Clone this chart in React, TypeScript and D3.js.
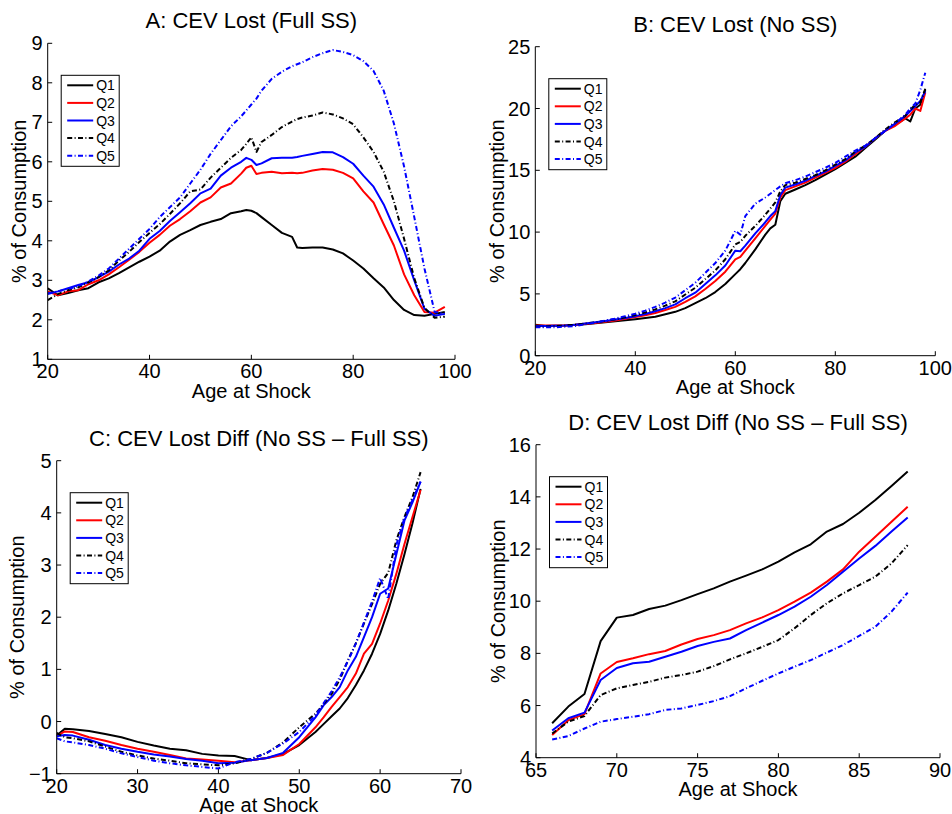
import React from 'react';
import * as d3 from 'd3';

// ---------- DATA ----------
const seriesNames = ['Q1', 'Q2', 'Q3', 'Q4', 'Q5'];

// Panel A: CEV Lost (Full SS)
const agesA = [20,22,24,26,28,30,32,34,36,38,40,42,44,46,48,50,52,54,56,58,59,60,61,62,64,66,68,69,70,72,74,76,78,80,82,84,86,88,90,92,94,96,98];
const fullQ1 = [2.8,2.62,2.68,2.75,2.8,2.95,3.05,3.18,3.33,3.47,3.6,3.75,3.98,4.15,4.27,4.4,4.48,4.55,4.7,4.75,4.78,4.76,4.7,4.6,4.4,4.2,4.1,3.83,3.82,3.83,3.83,3.78,3.68,3.5,3.3,3.05,2.82,2.5,2.25,2.12,2.1,2.15,2.2];
const fullQ2 = [2.72,2.62,2.72,2.75,2.9,3.0,3.15,3.33,3.52,3.72,3.95,4.15,4.38,4.55,4.75,4.97,5.1,5.35,5.45,5.7,5.85,5.9,5.69,5.72,5.75,5.71,5.72,5.71,5.72,5.78,5.82,5.8,5.72,5.58,5.25,4.97,4.42,3.88,3.15,2.62,2.2,2.18,2.33];
const fullQ3 = [2.65,2.72,2.8,2.88,2.95,3.08,3.22,3.4,3.55,3.75,4.05,4.25,4.5,4.72,4.95,5.2,5.32,5.65,5.85,6.0,6.1,6.05,5.92,5.96,6.09,6.1,6.1,6.12,6.15,6.2,6.25,6.24,6.12,5.95,5.65,5.37,4.92,4.33,3.75,3.0,2.28,2.1,2.15];
const fullQ4 = [2.5,2.65,2.75,2.82,2.95,3.08,3.25,3.5,3.72,3.97,4.2,4.42,4.68,4.95,5.25,5.3,5.6,5.85,6.1,6.3,6.45,6.62,6.25,6.5,6.68,6.88,7.02,7.08,7.12,7.17,7.25,7.2,7.1,6.95,6.62,6.25,5.75,5.0,4.05,3.05,2.3,2.05,2.08];
const fullQ5 = [2.67,2.72,2.78,2.85,2.97,3.12,3.3,3.55,3.8,4.05,4.3,4.6,4.85,5.1,5.45,5.8,6.2,6.55,6.9,7.15,7.3,7.45,7.6,7.8,8.1,8.28,8.42,8.47,8.52,8.65,8.75,8.83,8.78,8.7,8.55,8.3,7.8,6.97,5.88,4.6,3.3,2.2,2.15];

// Panel B: CEV Lost (No SS)
const agesB = [20,22,24,26,28,30,32,34,36,38,40,42,44,46,48,50,52,54,56,58,60,61,62,64,66,67,68,69,70,72,74,76,78,80,82,84,86,88,90,92,94,95,96,97,98];
const noQ1 = [2.5,2.4,2.42,2.45,2.5,2.55,2.62,2.7,2.78,2.86,2.95,3.05,3.15,3.35,3.55,3.85,4.25,4.65,5.15,5.8,6.6,7.0,7.5,8.6,9.8,10.3,10.6,12.5,13.1,13.45,13.8,14.2,14.65,15.1,15.6,16.1,16.8,17.5,18.2,18.7,19.2,18.95,20.0,20.3,21.5];
const noQ2 = [2.45,2.45,2.45,2.45,2.5,2.58,2.65,2.75,2.85,2.98,3.12,3.28,3.45,3.7,3.95,4.35,4.8,5.4,6.05,6.8,7.8,8.0,8.5,9.5,10.5,11.0,11.5,12.8,13.4,13.7,14.0,14.4,14.8,15.2,15.7,16.3,16.9,17.6,18.2,18.6,19.2,19.5,20.0,19.8,21.3];
const noQ3 = [2.4,2.4,2.42,2.45,2.5,2.6,2.7,2.8,2.92,3.05,3.2,3.38,3.6,3.85,4.15,4.65,5.1,5.8,6.5,7.3,8.5,8.45,8.9,9.9,10.8,11.3,11.7,13.0,13.6,13.85,14.15,14.55,14.9,15.35,15.8,16.45,16.9,17.6,18.2,18.8,19.4,19.8,20.2,20.6,21.4];
const noQ4 = [2.35,2.35,2.4,2.45,2.5,2.6,2.7,2.82,2.95,3.1,3.3,3.5,3.75,4.05,4.4,4.95,5.5,6.2,6.9,7.8,9.0,9.2,9.7,10.5,11.4,11.9,12.4,13.3,13.8,14.0,14.3,14.6,15.0,15.45,15.9,16.5,17.0,17.6,18.3,18.9,19.4,19.9,20.3,20.5,21.6];
const noQ5 = [2.3,2.3,2.3,2.35,2.4,2.55,2.68,2.85,3.0,3.2,3.4,3.65,3.95,4.3,4.7,5.3,5.9,6.7,7.5,8.5,10.1,9.8,11.3,12.3,12.8,13.1,13.4,13.7,13.95,14.2,14.5,14.85,15.2,15.6,16.1,16.6,17.0,17.6,18.2,18.8,19.5,20.0,20.4,21.5,22.9];

// Panel C: CEV Lost Diff, ages 20-65
const agesC = [20,21,22,24,26,28,30,32,34,36,38,40,42,44,46,48,50,52,53,54,55,56,57,58,59,60,61,62,63,64,65];
const diffQ1 = [-0.27,-0.14,-0.15,-0.18,-0.24,-0.3,-0.39,-0.46,-0.52,-0.55,-0.62,-0.65,-0.66,-0.74,-0.7,-0.62,-0.45,-0.2,-0.05,0.1,0.25,0.45,0.7,0.98,1.3,1.68,2.13,2.64,3.2,3.8,4.46];
const diffQ2 = [-0.28,-0.19,-0.2,-0.3,-0.37,-0.45,-0.52,-0.58,-0.64,-0.71,-0.73,-0.75,-0.78,-0.74,-0.7,-0.64,-0.43,-0.11,0.08,0.28,0.47,0.66,0.92,1.3,1.49,1.88,2.32,2.83,3.4,3.92,4.44];
const diffQ3 = [-0.28,-0.26,-0.27,-0.35,-0.45,-0.52,-0.58,-0.63,-0.67,-0.72,-0.75,-0.8,-0.79,-0.74,-0.7,-0.6,-0.3,0.08,0.31,0.47,0.66,0.98,1.24,1.62,2.0,2.45,2.55,3.2,3.85,4.2,4.6];
const diffQ4 = [-0.22,-0.3,-0.32,-0.38,-0.48,-0.58,-0.65,-0.71,-0.75,-0.8,-0.82,-0.84,-0.8,-0.72,-0.6,-0.4,-0.11,0.15,0.33,0.53,0.8,1.17,1.5,1.88,2.25,2.64,2.85,3.47,3.92,4.3,4.78];
const diffQ5 = [-0.32,-0.38,-0.4,-0.45,-0.52,-0.61,-0.68,-0.75,-0.8,-0.84,-0.87,-0.9,-0.78,-0.72,-0.6,-0.42,-0.2,0.12,0.35,0.58,0.85,1.15,1.5,1.9,2.3,2.75,2.35,3.38,3.9,4.25,4.6];

// Panel D: CEV Lost Diff, ages 66-88
const agesD = [66,67,68,69,70,71,72,73,74,75,76,77,78,79,80,81,82,83,84,85,86,87,88];
const oldQ1 = [5.32,5.96,6.44,8.47,9.37,9.47,9.7,9.83,10.04,10.27,10.49,10.75,10.98,11.22,11.52,11.87,12.18,12.67,12.96,13.39,13.88,14.42,14.97];
const oldQ2 = [4.87,5.44,5.67,7.23,7.67,7.81,7.97,8.09,8.34,8.55,8.7,8.89,9.15,9.38,9.66,9.98,10.33,10.75,11.22,11.9,12.47,13.05,13.62];
const oldQ3 = [5.04,5.51,5.73,6.98,7.44,7.62,7.68,7.87,8.06,8.28,8.44,8.57,8.89,9.18,9.47,9.79,10.17,10.62,11.13,11.64,12.12,12.67,13.21];
const oldQ4 = [4.93,5.38,5.6,6.4,6.66,6.79,6.91,7.07,7.17,7.3,7.51,7.77,8.0,8.25,8.51,8.96,9.47,9.92,10.3,10.62,10.94,11.45,12.15];
const oldQ5 = [4.7,4.83,5.12,5.38,5.48,5.57,5.67,5.83,5.89,6.02,6.17,6.36,6.66,6.95,7.23,7.49,7.74,8.03,8.32,8.67,9.02,9.6,10.33];

// Tick values
const xTicksA = [20, 40, 60, 80, 100];
const yTicksA = [1, 2, 3, 4, 5, 6, 7, 8, 9];
const xTicksB = [20, 40, 60, 80, 100];
const yTicksB = [0, 5, 10, 15, 20, 25];
const xTicksC = [20, 30, 40, 50, 60, 70];
const yTicksC = [-1, 0, 1, 2, 3, 4, 5];
const xTicksD = [65, 70, 75, 80, 85, 90];
const yTicksD = [4, 6, 8, 10, 12, 14, 16];

const titles = [
  'A: CEV Lost (Full SS)',
  'B: CEV Lost (No SS)',
  'C: CEV Lost Diff (No SS \u2013 Full SS)',
  'D: CEV Lost Diff (No SS \u2013 Full SS)',
];
const xLabel = 'Age at Shock';
const yLabel = '% of Consumption';

// ---------- STYLE ----------
const FONT = '"Liberation Sans", Arial, Helvetica, sans-serif';
const DASHDOT = '5,2.4,1,2.4';
const styles = [
  { color: '#000000', dash: null },
  { color: '#ff0000', dash: null },
  { color: '#0000ff', dash: null },
  { color: '#000000', dash: DASHDOT },
  { color: '#0000ff', dash: DASHDOT },
];

type PanelProps = {
  id: string;
  left: number; top: number; width: number; height: number;
  xDomain: [number, number]; yDomain: [number, number];
  xTicks: number[]; yTicks: number[];
  ages: number[]; series: number[][];
  title: string; yLabelOffset: number;
};

const fmt = (v: number) => (v < 0 ? '\u2212' + Math.abs(v) : String(v));

function Panel(p: PanelProps) {
  const x = d3.scaleLinear().domain(p.xDomain).range([p.left, p.left + p.width]);
  const y = d3.scaleLinear().domain(p.yDomain).range([p.top + p.height, p.top]);
  const bottom = p.top + p.height;
  const line = d3.line<number>().x((_, i) => x(p.ages[i])).y((d) => y(d));
  const tickLen = 4.5;
  const lgX = p.left + 13.5;
  const lgY = p.top + 32;
  const rowH = 17.6;
  return (
    <g>
      <defs>
        <clipPath id={`clip-${p.id}`}>
          <rect x={p.left} y={p.top - 2} width={p.width + 2} height={p.height + 2} />
        </clipPath>
      </defs>
      <g clipPath={`url(#clip-${p.id})`}>
        {p.series.map((s, i) => (
          <path key={i} d={line(s) || ''} fill="none" stroke={styles[i].color}
            strokeWidth={2} strokeDasharray={styles[i].dash || undefined}
            strokeLinejoin="round" />
        ))}
      </g>
      {/* axes */}
      <line x1={p.left} x2={p.left + p.width} y1={bottom} y2={bottom} stroke="#000" strokeWidth={1} />
      <line x1={p.left} x2={p.left} y1={p.top} y2={bottom} stroke="#000" strokeWidth={1} />
      {p.xTicks.map((t) => (
        <g key={'xt' + t}>
          <line x1={x(t)} x2={x(t)} y1={bottom} y2={bottom - tickLen} stroke="#000" strokeWidth={1} />
          <text x={x(t)} y={bottom + 19} textAnchor="middle" fontSize={20} fontFamily={FONT}>{fmt(t)}</text>
        </g>
      ))}
      {p.yTicks.map((t) => (
        <g key={'yt' + t}>
          <line x1={p.left} x2={p.left + tickLen} y1={y(t)} y2={y(t)} stroke="#000" strokeWidth={1} />
          <text x={p.left - 5} y={y(t) + 7} textAnchor="end" fontSize={20} fontFamily={FONT}>{fmt(t)}</text>
        </g>
      ))}
      <text x={p.left + p.width / 2} y={p.top - 15} textAnchor="middle" fontSize={22} fontFamily={FONT}>{p.title}</text>
      <text x={p.left + p.width / 2} y={bottom + 38.5} textAnchor="middle" fontSize={20} fontFamily={FONT}>{xLabel}</text>
      <text transform={`translate(${p.left - p.yLabelOffset},${p.top + p.height / 2}) rotate(-90)`}
        textAnchor="middle" fontSize={20} fontFamily={FONT}>{yLabel}</text>
      {/* legend */}
      <rect x={lgX} y={lgY} width={58} height={91} fill="#fff" stroke="#000" strokeWidth={1} />
      {seriesNames.map((n, i) => {
        const cy = lgY + 10 + i * rowH;
        return (
          <g key={n}>
            <line x1={lgX + 6} x2={lgX + 32} y1={cy} y2={cy} stroke={styles[i].color}
              strokeWidth={2} strokeDasharray={styles[i].dash || undefined} />
            <text x={lgX + 35} y={cy + 5} fontSize={14} fontFamily={FONT}>{n}</text>
          </g>
        );
      })}
    </g>
  );
}

export default function App() {
  return (
    <svg width={952} height={814} style={{ position: 'absolute', left: 0, top: 0, background: '#fff' }}>
      <rect x={0} y={0} width={952} height={814} fill="#fff" />
      <Panel id="a" left={47.7} top={43.3} width={407.3} height={316}
        xDomain={[20, 100]} yDomain={[1, 9]} xTicks={xTicksA} yTicks={yTicksA}
        ages={agesA} series={[fullQ1, fullQ2, fullQ3, fullQ4, fullQ5]}
        title={titles[0]} yLabelOffset={21.7} />
      <Panel id="b" left={535.3} top={46.7} width={400} height={309}
        xDomain={[20, 100]} yDomain={[0, 25]} xTicks={xTicksB} yTicks={yTicksB}
        ages={agesB} series={[noQ1, noQ2, noQ3, noQ4, noQ5]}
        title={titles[1]} yLabelOffset={31.7} />
      <Panel id="c" left={56.7} top={460.7} width={404.3} height={313}
        xDomain={[20, 70]} yDomain={[-1, 5]} xTicks={xTicksC} yTicks={yTicksC}
        ages={agesC} series={[diffQ1, diffQ2, diffQ3, diffQ4, diffQ5]}
        title={titles[2]} yLabelOffset={32.4} />
      <Panel id="d" left={536} top={444.7} width={404} height={313}
        xDomain={[65, 90]} yDomain={[4, 16]} xTicks={xTicksD} yTicks={yTicksD}
        ages={agesD} series={[oldQ1, oldQ2, oldQ3, oldQ4, oldQ5]}
        title={titles[3]} yLabelOffset={30.7} />
    </svg>
  );
}
